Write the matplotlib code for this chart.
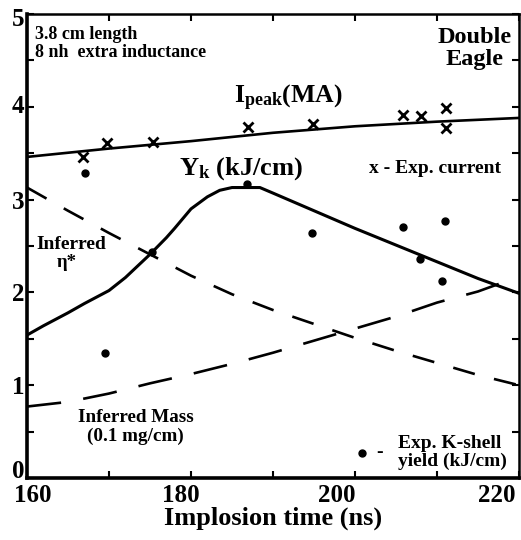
import matplotlib
matplotlib.use("Agg")
import matplotlib.pyplot as plt
import matplotlib.transforms as mtransforms
from matplotlib.ticker import MultipleLocator

# data
ipeak_t = [160, 170, 180, 190, 200, 210, 220]
ipeak_v = [3.46, 3.55, 3.63, 3.72, 3.79, 3.84, 3.88]

yk_t = [160, 162, 165, 167, 170, 172, 175, 177, 178, 180, 182, 183.5, 185, 188.4, 190, 195, 200, 205, 210, 215, 220]
yk_v = [1.54, 1.64, 1.78, 1.88, 2.02, 2.16, 2.41, 2.59, 2.69, 2.90, 3.03, 3.10, 3.13, 3.13, 3.07, 2.88, 2.69, 2.51, 2.33, 2.15, 1.99]

eta_t = [160, 165, 170, 175, 180, 185, 190, 195, 200, 205, 210, 215, 220]
eta_v = [3.13, 2.88, 2.64, 2.41, 2.18, 1.98, 1.81, 1.66, 1.51, 1.37, 1.24, 1.11, 1.00]

mass_t = [160, 165, 170, 175, 180, 185, 190, 195, 200, 205, 210, 215, 220]
mass_v = [0.77, 0.82, 0.91, 1.02, 1.12, 1.23, 1.35, 1.48, 1.61, 1.74, 1.89, 2.01, 2.17]

cur_t = [166.8, 169.8, 175.4, 186.9, 194.9, 205.9, 208.1, 211.1, 211.1]
cur_v = [3.46, 3.61, 3.62, 3.78, 3.81, 3.91, 3.90, 3.99, 3.77]

ks_t = [167.1, 169.5, 175.3, 186.8, 194.8, 205.9, 207.9, 210.6, 211.0]
ks_v = [3.29, 1.35, 2.44, 3.17, 2.64, 2.70, 2.36, 2.12, 2.77]

xticks = [160, 180, 200, 220]
yticks = [0, 1, 2, 3, 4, 5]

serif = "Liberation Serif"
plt.rcParams.update({
    "font.family": serif,
    "font.weight": "bold",
    "mathtext.fontset": "custom",
    "mathtext.rm": "Liberation Serif:bold",
    "mathtext.bf": "Liberation Serif:bold",
    "mathtext.it": "Liberation Serif:bold",
})

fig = plt.figure(figsize=(5.21, 5.40), dpi=100)
ax = fig.add_axes([27 / 521, 62 / 540, 492 / 521, 464 / 540])

lw = 1.9
ax.plot(ipeak_t, ipeak_v, color="black", lw=lw)
ax.plot(yk_t, yk_v, color="black", lw=lw + 0.3, solid_joinstyle="round")
ax.plot(eta_t, eta_v, color="black", lw=lw, dashes=(8.5, 7.5))
ax.plot(mass_t, mass_v, color="black", lw=lw, dashes=(13, 8.5))
ax.plot(cur_t, cur_v, ls="none", marker="x", ms=6.5, mew=2, color="black")
ax.plot(ks_t, ks_v, ls="none", marker="o", ms=5, color="black")

ax.set_xlim(160, 220)
ax.set_ylim(0, 5)
ax.set_xticks(xticks)
ax.set_yticks(yticks)
ax.xaxis.set_minor_locator(MultipleLocator(10))
ax.yaxis.set_minor_locator(MultipleLocator(0.5))
ax.tick_params(which="both", direction="in", top=True, right=True, length=5, width=1.5)
ax.tick_params(axis="both", which="major", labelsize=18, pad=3)
ax.tick_params(axis="y", which="major", pad=2)
for side in ["left", "bottom"]:
    ax.spines[side].set_linewidth(2.6)
for side in ["top", "right"]:
    ax.spines[side].set_linewidth(1.8)

# the scanned labels sit a bit off their ticks
xshifts = [4, -7, -13, -16]
for lab, dx in zip(ax.get_xticklabels(), xshifts):
    lab.set_fontweight("bold")
    lab.set_transform(lab.get_transform() + mtransforms.ScaledTranslation(dx / 72, -1 / 72, fig.dpi_scale_trans))
yshifts = [6.5, 0, 0, 0, 2, -2]
for lab, dy in zip(ax.get_yticklabels(), yshifts):
    lab.set_fontweight("bold")
    lab.set_transform(lab.get_transform() + mtransforms.ScaledTranslation(0, dy / 72, fig.dpi_scale_trans))

ax.set_xlabel("Implosion time (ns)", fontsize=19, fontweight="bold", labelpad=0)

# annotations
ax.text(0.016, 0.975, "3.8 cm length\n8 nh  extra inductance", transform=ax.transAxes,
        fontsize=13, va="top", ha="left", linespacing=1.1)
ax.text(0.985, 0.972, "Double\nEagle", transform=ax.transAxes,
        fontsize=17.5, va="top", ha="right", multialignment="center", linespacing=1.05)
ax.text(185.3, 4.10, r"I$_{\rm peak}$(MA)", fontsize=18.5, va="center", ha="left")
ax.text(178.5, 3.33, r"Y$_{\rm k}$ (kJ/cm)", fontsize=19, va="center", ha="left")
ax.text(201.7, 3.33, "x - Exp. current", fontsize=14, va="center", ha="left")
ax.text(161.1, 2.52, "Inferred", fontsize=14, va="center", ha="left")
ax.text(164.9, 2.32, "η*", fontsize=13.5, va="center", ha="center")
ax.text(166.2, 0.55, "Inferred Mass\n(0.1 mg/cm)", fontsize=13.8, va="center", ha="left",
        multialignment="center", linespacing=1.15)
ax.plot([0.680], [0.054], transform=ax.transAxes, marker="o", ms=5, color="black", ls="none")
ax.text(0.716, 0.054, "-", transform=ax.transAxes, fontsize=14, va="center", ha="center")
ax.text(0.755, 0.054, "Exp. K-shell\nyield (kJ/cm)", transform=ax.transAxes,
        fontsize=14, va="center", ha="left", linespacing=1.05)

fig.savefig("out.png", dpi=100)
